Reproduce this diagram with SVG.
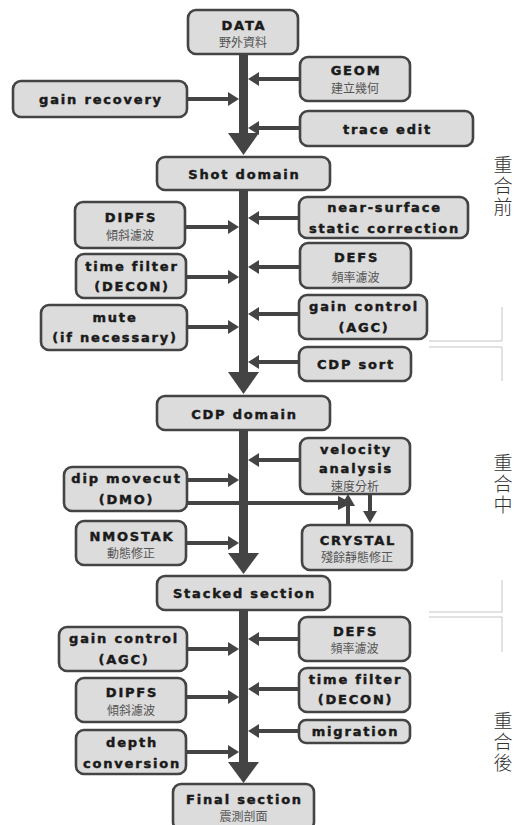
<svg xmlns="http://www.w3.org/2000/svg" width="515" height="825" viewBox="0 0 515 825">
<style>
.b{fill:#dcdcdc;stroke:#444;stroke-width:2.6}
.t{font-family:"DejaVu Sans","Liberation Sans",sans-serif;font-weight:bold;font-size:13px;letter-spacing:1.8px;fill:#1a1a1a;stroke:#1a1a1a;stroke-width:0.45;text-anchor:middle}
.c{font-family:"Noto Sans CJK TC","Noto Sans CJK SC",sans-serif;font-size:12px;fill:#555;text-anchor:middle}
.v{font-family:"Noto Sans CJK TC","Noto Sans CJK SC",serif;font-size:19px;font-weight:300;fill:#333;writing-mode:vertical-rl;text-orientation:upright;letter-spacing:2px}
.m{stroke:#444;stroke-width:9;fill:none}
.s{stroke:#444;stroke-width:4;fill:none}
.h{fill:#444}
.g{stroke:#c4c4c4;stroke-width:1;fill:none}
</style>
<rect width="515" height="825" fill="#fff"/>
<g id="connectors">
<path class="m" d="M243.5 54V136M243.5 190V375M243.5 430V556M243.5 610V765"/>
<polygon class="h" points="228,133 259,133 243.5,155"/>
<polygon class="h" points="228,372 259,372 243.5,394"/>
<polygon class="h" points="228,553 259,553 243.5,574"/>
<polygon class="h" points="228,762 259,762 243.5,783"/>
<path class="s" d="M300 79H256M187 99H231M300 128H256M299 218H256M185 227H231M300 267H256M186 277H231M299 314H256M187 327H231M299 362H256M300 460H256M187 480H231M186 543H231M300 639H256M187 649H231M299 689H256M186 697H231M299 731H256M186 752H231"/>
<g class="h">
<polygon points="248,79 259,72 259,86"/>
<polygon points="239,99 228,92 228,106"/>
<polygon points="248,128 259,121 259,135"/>
<polygon points="248,218 259,211 259,225"/>
<polygon points="239,227 228,220 228,234"/>
<polygon points="248,267 259,260 259,274"/>
<polygon points="239,277 228,270 228,284"/>
<polygon points="248,314 259,307 259,321"/>
<polygon points="239,327 228,320 228,334"/>
<polygon points="248,362 259,355 259,369"/>
<polygon points="248,460 259,453 259,467"/>
<polygon points="239,480 228,473 228,487"/>
<polygon points="239,543 228,536 228,550"/>
<polygon points="248,639 259,632 259,646"/>
<polygon points="239,649 228,642 228,656"/>
<polygon points="248,689 259,682 259,696"/>
<polygon points="239,697 228,690 228,704"/>
<polygon points="248,731 259,724 259,738"/>
<polygon points="239,752 228,745 228,759"/>
</g>
<path class="s" d="M187 503H340M348 525V505M370 494V514"/>
<polygon class="h" points="352,503 338,496 338,510"/>
<polygon class="h" points="348,494 341,506 355,506"/>
<polygon class="h" points="370,523 363,511 377,511"/>
</g>
<g id="brackets">
<path class="g" d="M502 307V341H429M429 347H502V381M502 580V612H429M429 617H502V652"/>
</g>
<g id="data"><rect class="b" x="188" y="10" width="110" height="44" rx="8"/><text class="t" x="244" y="30">DATA</text><text class="c" x="243" y="47">野外資料</text></g>
<g id="geom"><rect class="b" x="300" y="57" width="110" height="44" rx="8"/><text class="t" x="356" y="75">GEOM</text><text class="c" x="355" y="93">建立幾何</text></g>
<g id="gain-recovery"><rect class="b" x="13" y="81" width="174" height="36" rx="8"/><text class="t" x="101" y="103.5">gain recovery</text></g>
<g id="trace-edit"><rect class="b" x="300" y="111" width="173" height="35" rx="8"/><text class="t" x="387.5" y="134">trace edit</text></g>
<g id="shot-domain"><rect class="b" x="157" y="157" width="173" height="33" rx="8"/><text class="t" x="244.5" y="178.5">Shot domain</text></g>
<g id="near-surface"><rect class="b" x="299" y="197" width="169" height="41" rx="8"/><text class="t" x="384.5" y="211.5">near-surface</text><text class="t" x="384.5" y="232.5">static correction</text></g>
<g id="dipfs1"><rect class="b" x="75" y="202" width="110" height="46" rx="8"/><text class="t" x="131" y="222">DIPFS</text><text class="c" x="130" y="239.5">傾斜濾波</text></g>
<g id="defs1"><rect class="b" x="300" y="243" width="111" height="45" rx="8"/><text class="t" x="356.5" y="261.5">DEFS</text><text class="c" x="355.5" y="282">頻率濾波</text></g>
<g id="time-filter1"><rect class="b" x="76" y="254" width="110" height="44" rx="8"/><text class="t" x="132" y="270.5">time filter</text><text class="t" x="132" y="290.5">(DECON)</text></g>
<g id="gain-control1"><rect class="b" x="299" y="295" width="128" height="44" rx="8"/><text class="t" x="364" y="310.5">gain control</text><text class="t" x="364" y="331.5">(AGC)</text></g>
<g id="mute"><rect class="b" x="41" y="305" width="146" height="45" rx="8"/><text class="t" x="115" y="321.5">mute</text><text class="t" x="115" y="341.5">(if necessary)</text></g>
<g id="cdp-sort"><rect class="b" x="299" y="347" width="112" height="34" rx="8"/><text class="t" x="356" y="368.5">CDP sort</text></g>
<g id="cdp-domain"><rect class="b" x="157" y="396" width="173" height="34" rx="8"/><text class="t" x="244.5" y="418.5">CDP domain</text></g>
<g id="velocity"><rect class="b" x="300" y="438" width="110" height="56" rx="8"/><text class="t" x="356" y="453.5">velocity</text><text class="t" x="356" y="472.5">analysis</text><text class="c" x="355" y="490.5">速度分析</text></g>
<g id="dmo"><rect class="b" x="64" y="467" width="123" height="44" rx="8"/><text class="t" x="126.5" y="482.5">dip movecut</text><text class="t" x="126.5" y="503.5">(DMO)</text></g>
<g id="nmostak"><rect class="b" x="76" y="521" width="110" height="44" rx="8"/><text class="t" x="132" y="540.5">NMOSTAK</text><text class="c" x="131" y="558">動態修正</text></g>
<g id="crystal"><rect class="b" x="302" y="525" width="110" height="45" rx="8"/><text class="t" x="358" y="544.5">CRYSTAL</text><text class="c" x="357" y="562">殘餘靜態修正</text></g>
<g id="stacked"><rect class="b" x="157" y="576" width="173" height="34" rx="8"/><text class="t" x="244.5" y="597.5">Stacked section</text></g>
<g id="defs2"><rect class="b" x="299" y="617" width="111" height="44" rx="8"/><text class="t" x="355.5" y="635.5">DEFS</text><text class="c" x="354.5" y="653">頻率濾波</text></g>
<g id="gain-control2"><rect class="b" x="59" y="627" width="128" height="44" rx="8"/><text class="t" x="124" y="642.5">gain control</text><text class="t" x="124" y="663.5">(AGC)</text></g>
<g id="time-filter2"><rect class="b" x="299" y="668" width="111" height="44" rx="8"/><text class="t" x="355.5" y="683.5">time filter</text><text class="t" x="355.5" y="703.5">(DECON)</text></g>
<g id="dipfs2"><rect class="b" x="76" y="678" width="110" height="44" rx="8"/><text class="t" x="132" y="697">DIPFS</text><text class="c" x="131" y="714.5">傾斜濾波</text></g>
<g id="migration"><rect class="b" x="299" y="720" width="111" height="23" rx="7"/><text class="t" x="355.5" y="735.5">migration</text></g>
<g id="depth"><rect class="b" x="76" y="730" width="110" height="44" rx="8"/><text class="t" x="132" y="746.5">depth</text><text class="t" x="132" y="767.5">conversion</text></g>
<g id="final"><rect class="b" x="173" y="784" width="141" height="46" rx="8"/><text class="t" x="244.5" y="804">Final section</text><text class="c" x="243.5" y="821">震測剖面</text></g>
<g id="labels">
<text class="v" x="503" y="155">重合前</text>
<text class="v" x="503" y="453">重合中</text>
<text class="v" x="503" y="711">重合後</text>
</g>
</svg>
